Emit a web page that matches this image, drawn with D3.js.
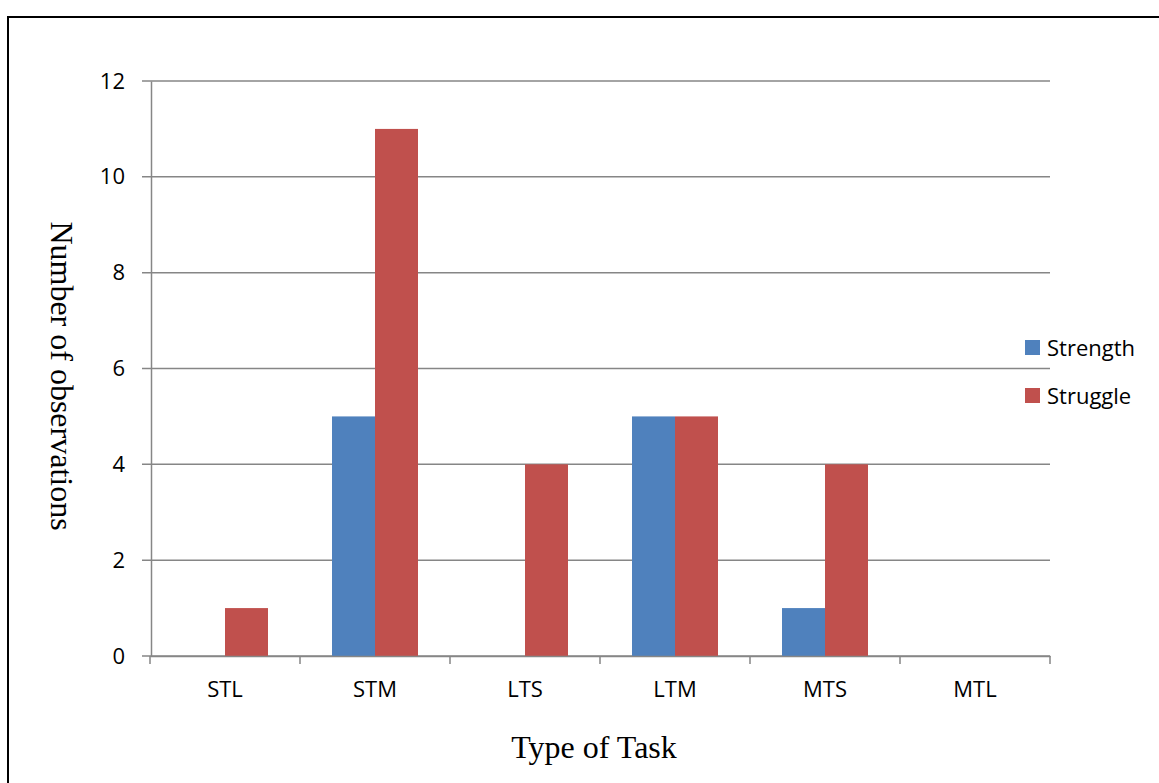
<!DOCTYPE html>
<html><head><meta charset="utf-8">
<script src="https://cdn.jsdelivr.net/npm/d3@7"></script>
<style>body{margin:0;background:#fff}svg{display:block}</style>
</head><body>
<script>
const categories = ["STL","STM","LTS","LTM","MTS","MTL"];
const seriesNames = ["Strength","Struggle"];
const strength = [0,5,0,5,1,0];
const struggle = [1,11,4,5,4,0];
const yTicks = [0,2,4,6,8,10,12];
const colors = ["#4F81BD","#C0504D"];

const W=1159,H=783;
const svg=d3.select("body").append("svg").attr("width",W).attr("height",H);
svg.append("rect").attr("x",8).attr("y",17).attr("width",1160).attr("height",800)
  .attr("fill","none").attr("stroke","#000").attr("stroke-width",2);

const x0=150,x1=1050,yTop=81,yBot=656;
const x=d3.scaleBand().domain(categories).range([x0,x1]).paddingInner(0).paddingOuter(0);
const y=d3.scaleLinear().domain([0,12]).range([yBot,yTop]);
const gap=(x.bandwidth()-86)/2;
const xs=d3.scaleBand().domain(seriesNames).range([gap,x.bandwidth()-gap]);

const font="'Open Sans', sans-serif";
const fs=22;
// gridlines
svg.append("g").selectAll("line").data(yTicks).join("line")
  .attr("x1",x0-8).attr("x2",x1).attr("y1",d=>y(d)).attr("y2",d=>y(d))
  .attr("stroke","#868686").attr("stroke-width",1.5);
// y axis
const ya=svg.append("g").attr("transform",`translate(${x0+1},0)`)
  .call(d3.axisLeft(y).tickValues(yTicks).tickSize(0).tickPadding(26));
ya.select(".domain").attr("stroke","#868686").attr("stroke-width",1.5);
ya.selectAll("text").attr("font-family",font).attr("font-size",fs).attr("fill","#000");

// bars
const data=categories.map((c,i)=>({c,vals:[strength[i],struggle[i]]}));
const g=svg.append("g");
data.forEach(d=>{
  d.vals.forEach((v,j)=>{
    if(v<=0) return;
    g.append("rect").attr("x",x(d.c)+xs(seriesNames[j])).attr("width",xs.bandwidth())
     .attr("y",y(v)).attr("height",y(0)-y(v)).attr("fill",colors[j]);
  });
});

// x axis
const xa=svg.append("g").attr("transform",`translate(0,${yBot})`)
  .call(d3.axisBottom(x).tickSize(0).tickPadding(25));
xa.select(".domain").attr("stroke","#868686").attr("stroke-width",1.5);
xa.selectAll("text").attr("font-family",font).attr("font-size",fs).attr("fill","#000");
svg.append("g").selectAll("line").data(d3.range(categories.length+1)).join("line")
  .attr("x1",i=>x0+i*x.bandwidth()).attr("x2",i=>x0+i*x.bandwidth())
  .attr("y1",yBot).attr("y2",yBot+8).attr("stroke","#868686").attr("stroke-width",1.5);

// titles
svg.append("text").attr("x",594).attr("y",758).attr("text-anchor","middle")
  .attr("font-family","'Liberation Serif', serif").attr("font-size",32).text("Type of Task");
svg.append("text").attr("transform","translate(51,376) rotate(90)").attr("text-anchor","middle")
  .attr("font-family","'Liberation Serif', serif").attr("font-size",32).text("Number of observations");

// legend
const lg=svg.append("g").selectAll("g").data(seriesNames).join("g")
  .attr("transform",(d,i)=>`translate(1025,${340+i*48})`);
lg.append("rect").attr("width",15).attr("height",15).attr("fill",(d,i)=>colors[i]);
lg.append("text").attr("x",22).attr("y",8).attr("dy","0.35em")
  .attr("font-family",font).attr("font-size",fs).text(d=>d);
</script>
</body></html>
